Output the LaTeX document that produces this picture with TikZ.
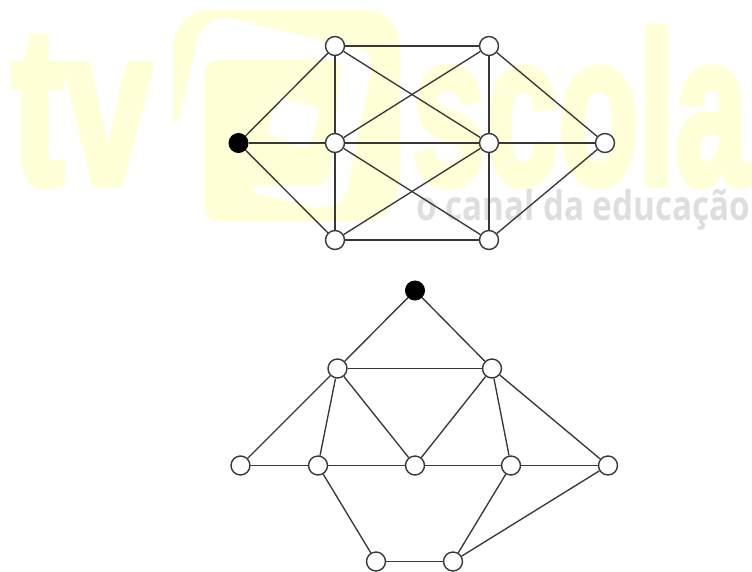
\documentclass[tikz,border=0pt]{standalone}
\usepackage{fontspec}
\newfontfamily\logofont[FakeBold=3.5]{Liberation Sans Bold}
\newfontfamily\subfont{Open Sans}
\definecolor{logoY}{HTML}{FFFFD8}
\definecolor{logoG}{HTML}{DEDEDE}
\definecolor{edgeC}{HTML}{383838}
\newlength\tagw
\AtBeginDocument{\settowidth{\tagw}{\fontsize{41pt}{41pt}\subfont\bfseries o canal da educação}\pgfmathsetmacro\tagscale{334pt/\tagw}\global\let\tagscale\tagscale}
\tikzset{
  vtx/.style={circle,draw=edgeC,line width=1.4pt,fill=white,minimum size=19pt,inner sep=0pt},
  src/.style={circle,draw=black,line width=1pt,fill=black,minimum size=19pt,inner sep=0pt},
  link/.style={draw=edgeC,line width=1.35pt},
  biglogo/.style={text=logoY,anchor=base west,inner sep=0pt,outer sep=0pt},
}
\begin{document}
\begin{tikzpicture}[x=1pt,y=-1pt]
\useasboundingbox (0,0) rectangle (752,571);
\clip (0,0) rectangle (752,571);
% logo
\node[biglogo,xscale=0.70] (tvword) at (12,184) {\fontsize{225pt}{225pt}\logofont tv};
\node[biglogo,xscale=0.612] (scolaword) at (412,184) {\fontsize{215pt}{215pt}\logofont scola};
\fill[logoY] (173,123) -- (173,50) .. controls (173,25) and (190,10) .. (212,10)
  -- (362,10) .. controls (385,10) and (400,25) .. (400,47)
  -- (400,170) .. controls (400,205) and (385,222) .. (360,222)
  -- (220,222) .. controls (210,222) and (204,216) .. (204,206)
  -- (204,124) -- cycle;
\fill[white] (175,125) -- (179,120) -- (197,43) .. controls (201,25) and (215,15) .. (232,19)
  -- (362,50) .. controls (370,52) and (373,60) .. (371,72)
  -- (348,186) .. controls (345,203) and (330,211) .. (312,207)
  -- (258,194) .. controls (250,192) and (250,186) .. (258,186)
  -- (316,186) .. controls (325,186) and (329,180) .. (330,172)
  -- (341,70) .. controls (341,63) and (338,60) .. (332,60)
  -- (220,60) .. controls (210,60) and (204,66) .. (204,76)
  -- (204,125) -- cycle;
\fill[white] (284,99) -- (312,106) .. controls (318,108) and (319,111) .. (318,116)
  -- (312,140) .. controls (310,147) and (306,148) .. (300,147)
  -- (274,137) .. controls (268,134) and (267,131) .. (269,126)
  -- (276,104) .. controls (278,99) and (280,98) .. (284,99) -- cycle;
\node[text=logoG,anchor=base west,inner sep=0pt,xscale=\tagscale] (tagline) at (416,220)
  {\fontsize{41pt}{41pt}\subfont\bfseries o canal da educação};
% upper graph
\node[src] (a0) at (238.5,143) {};
\node[vtx] (a1) at (335,46) {};
\node[vtx] (a2) at (489,46) {};
\node[vtx] (a3) at (335,143) {};
\node[vtx] (a4) at (489,143) {};
\node[vtx] (a5) at (605,143) {};
\node[vtx] (a6) at (335,240) {};
\node[vtx] (a7) at (489,240) {};
\foreach \p/\q in {a0/a1,a0/a3,a0/a6,a1/a2,a1/a3,a1/a4,a2/a3,a2/a4,a2/a5,a3/a4,a3/a6,a3/a7,a4/a5,a4/a6,a4/a7,a6/a7,a7/a5}
  \draw[link] (\p) -- (\q);
% lower graph
\node[src] (b0) at (415,290.5) {};
\node[vtx] (b1) at (337.5,368.5) {};
\node[vtx] (b2) at (492,368.5) {};
\node[vtx] (b3) at (240.5,465.5) {};
\node[vtx] (b4) at (318,465.5) {};
\node[vtx] (b5) at (415,465.5) {};
\node[vtx] (b6) at (511,465.5) {};
\node[vtx] (b7) at (608,465.5) {};
\node[vtx] (b8) at (376,561.5) {};
\node[vtx] (b9) at (453,561.5) {};
\foreach \p/\q in {b0/b1,b0/b2,b1/b2,b1/b3,b1/b4,b1/b5,b2/b5,b2/b6,b2/b7,b3/b4,b4/b5,b5/b6,b6/b7,b4/b8,b6/b9,b8/b9,b9/b7}
  \draw[link] (\p) -- (\q);
\end{tikzpicture}
\end{document}
